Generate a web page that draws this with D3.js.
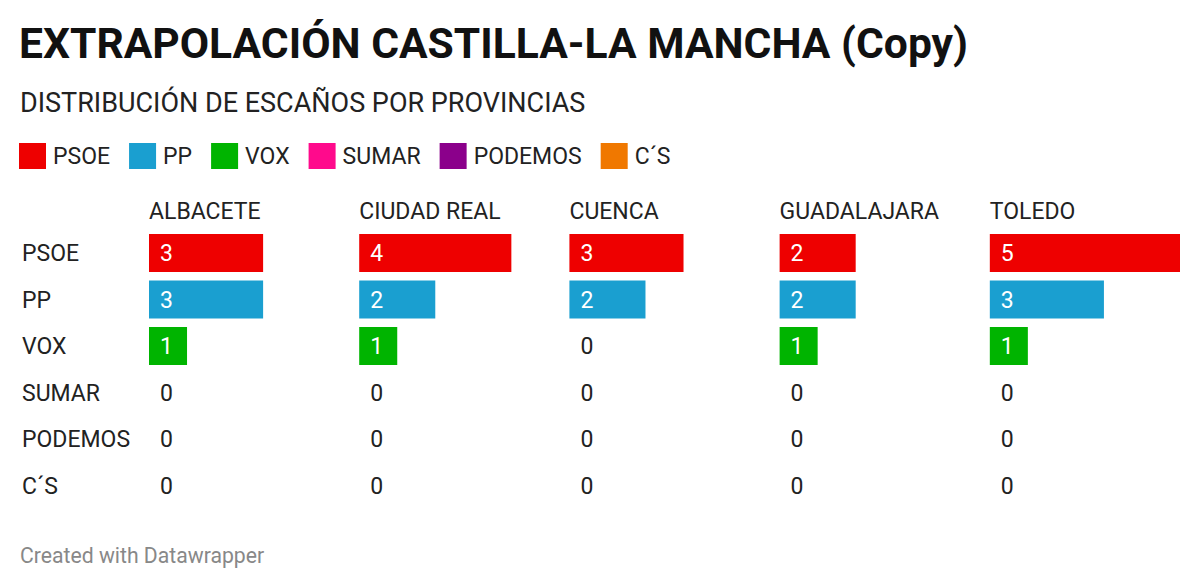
<!DOCTYPE html>
<html>
<head>
<meta charset="utf-8">
<script src="https://cdn.jsdelivr.net/npm/d3@7"></script>
<style>
  body { margin: 0; background: #fff; }
  text { font-family: Roboto, "Noto Sans", sans-serif; }
</style>
</head>
<body>
<svg id="svg" width="1200" height="588"></svg>
<script>
// data
var parties = ["PSOE", "PP", "VOX", "SUMAR", "PODEMOS", "C\u00B4S"];
var partyColors = ["#ee0000", "#1a9fd0", "#00b400", "#ff0a8c", "#8b008b", "#f07800"];
var provinces = ["ALBACETE", "CIUDAD REAL", "CUENCA", "GUADALAJARA", "TOLEDO"];
// seats per party, one array per province (same order as parties)
var albacete    = [3, 3, 1, 0, 0, 0];
var ciudadReal  = [4, 2, 1, 0, 0, 0];
var cuenca      = [3, 2, 0, 0, 0, 0];
var guadalajara = [2, 2, 1, 0, 0, 0];
var toledo      = [5, 3, 1, 0, 0, 0];
var seats = [albacete, ciudadReal, cuenca, guadalajara, toledo];

var svg = d3.select("#svg");
var fontSize = 23;

// header
svg.append("text")
  .attr("x", 19).attr("y", 58)
  .attr("font-size", 42.6).attr("font-weight", 700).attr("fill", "#111")
  .text("EXTRAPOLACIÓN CASTILLA-LA MANCHA (Copy)");

svg.append("text")
  .attr("x", 20).attr("y", 112)
  .attr("font-size", 27).attr("fill", "#222")
  .text("DISTRIBUCIÓN DE ESCAÑOS POR PROVINCIAS");

// legend
var color = d3.scaleOrdinal().domain(parties).range(partyColors);
var lx = 19;
parties.forEach(function(p) {
  var g = svg.append("g").attr("transform", "translate(" + lx + ",143)");
  g.append("rect").attr("width", 27).attr("height", 26).attr("fill", color(p));
  var t = g.append("text")
    .attr("x", 34).attr("y", 21)
    .attr("font-size", fontSize).attr("fill", "#222")
    .text(p);
  lx += 34 + t.node().getComputedTextLength() + 19;
});

// layout scales
var col = d3.scaleBand().domain(provinces).range([149, 1180]).paddingInner(20 / 210);
var row = d3.scaleBand().domain(parties).range([234, 504.5]).paddingInner(8.5 / 46.5).paddingOuter(0);
var x = d3.scaleLinear().domain([0, 5]).range([0, col.bandwidth()]);

// row labels
svg.selectAll(".rowlab")
  .data(parties)
  .enter().append("text")
  .attr("class", "rowlab")
  .attr("x", 22)
  .attr("y", function(d) { return row(d) + row.bandwidth() / 2; })
  .attr("dy", "0.36em")
  .attr("font-size", fontSize).attr("fill", "#222")
  .text(function(d) { return d; });

// one column per province
provinces.forEach(function(prov, i) {
  var g = svg.append("g").attr("transform", "translate(" + col(prov) + ",0)");

  g.append("text")
    .attr("x", 0).attr("y", 219)
    .attr("font-size", fontSize).attr("fill", "#222")
    .text(prov);

  var data = parties.map(function(p, j) { return { party: p, value: seats[i][j] }; });

  g.selectAll("rect")
    .data(data.filter(function(d) { return d.value > 0; }))
    .enter().append("rect")
    .attr("x", 0)
    .attr("y", function(d) { return row(d.party); })
    .attr("width", function(d) { return x(d.value); })
    .attr("height", row.bandwidth())
    .attr("fill", function(d) { return color(d.party); });

  g.selectAll(".val")
    .data(data)
    .enter().append("text")
    .attr("class", "val")
    .attr("x", 11)
    .attr("y", function(d) { return row(d.party) + row.bandwidth() / 2; })
    .attr("dy", "0.36em")
    .attr("font-size", fontSize)
    .attr("fill", function(d) { return d.value > 0 ? "#fff" : "#222"; })
    .text(function(d) { return d.value; });
});

// footer
svg.append("text")
  .attr("x", 20).attr("y", 563)
  .attr("font-size", 21.2).attr("fill", "#888")
  .text("Created with Datawrapper");
</script>
</body>
</html>
